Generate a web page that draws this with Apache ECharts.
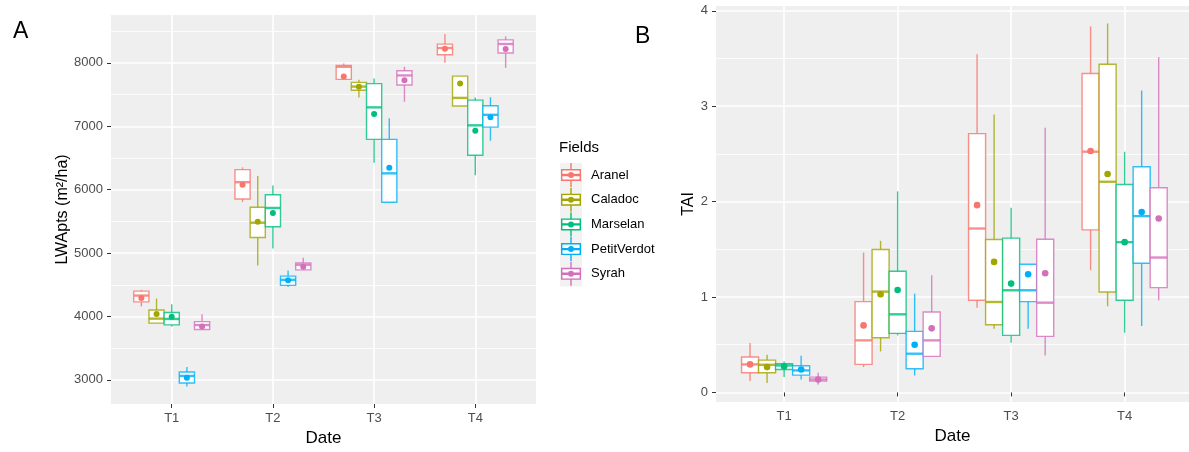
<!DOCTYPE html>
<html><head><meta charset="utf-8">
<script src="https://cdn.jsdelivr.net/npm/echarts@6/dist/echarts.min.js"></script>
<style>html,body{margin:0;padding:0;background:#fff}#c{width:1189px;height:452px}</style>
</head><body><div id="c"></div>
<script>
// ---------- data ----------
const fields = ['Aranel', 'Caladoc', 'Marselan', 'PetitVerdot', 'Syrah'];
const dates = ['T1', 'T2', 'T3', 'T4'];
const yTicksLWA = [3000, 4000, 5000, 6000, 7000, 8000];
const yTicksTAI = [0, 1, 2, 3, 4];

// rows per date: [min, Q1, median, Q3, max, mean]
const lwaAranel      = [[4160, 4230, 4330, 4400, 4420, 4290], [5806, 5853, 6118, 6316, 6352, 6076], [7740, 7740, 7938, 7958, 7990, 7786], [8000, 8129, 8234, 8296, 8454, 8223]];
const lwaCaladoc     = [[3893, 3895, 3966, 4102, 4283, 4039], [4803, 5245, 5479, 5723, 6216, 5494], [7454, 7568, 7626, 7693, 7732, 7623], [7319, 7319, 7448, 7791, 7791, 7674]];
const lwaMarselan    = [[3842, 3868, 3961, 4064, 4195, 3997], [5073, 5416, 5712, 5920, 6066, 5634], [6425, 6793, 7298, 7673, 7755, 7194], [6227, 6544, 7015, 7412, 7454, 6929]];
const lwaPetitVerdot = [[2895, 2952, 3062, 3124, 3202, 3035], [4465, 4491, 4579, 4636, 4725, 4570], [5801, 5801, 6258, 6793, 7127, 6347], [6773, 6986, 7181, 7323, 7459, 7142]];
const lwaSyrah       = [[3794, 3794, 3865, 3919, 4036, 3841], [4735, 4735, 4816, 4844, 4925, 4785], [7386, 7651, 7802, 7875, 7938, 7724], [7922, 8156, 8298, 8363, 8418, 8220]];

const taiAranel      = [[0.119, 0.206, 0.294, 0.371, 0.518, 0.294], [0.266, 0.294, 0.546, 0.952, 1.466, 0.703], [0.889, 0.966, 1.718, 2.712, 3.545, 1.963], [1.281, 1.704, 2.523, 3.342, 3.836, 2.530]];
const taiCaladoc     = [[0.098, 0.206, 0.290, 0.339, 0.395, 0.266], [0.430, 0.574, 1.057, 1.498, 1.589, 1.029], [0.668, 0.710, 0.948, 1.603, 2.912, 1.368], [0.903, 1.053, 2.208, 3.440, 3.867, 2.289]];
const taiMarselan    = [[0.161, 0.241, 0.283, 0.301, 0.325, 0.273], [0.598, 0.619, 0.819, 1.270, 2.107, 1.074], [0.521, 0.598, 1.071, 1.617, 1.935, 1.141], [0.626, 0.966, 1.575, 2.180, 2.523, 1.575]];
const taiPetitVerdot = [[0.136, 0.182, 0.231, 0.280, 0.385, 0.241], [0.178, 0.248, 0.406, 0.640, 1.036, 0.500], [0.668, 0.952, 1.071, 1.344, 1.344, 1.239], [0.696, 1.354, 1.848, 2.366, 3.164, 1.890]];
const taiSyrah       = [[0.084, 0.119, 0.136, 0.161, 0.206, 0.136], [0.378, 0.378, 0.546, 0.843, 1.228, 0.672], [0.388, 0.588, 0.941, 1.606, 2.775, 1.249], [0.966, 1.099, 1.414, 2.145, 3.514, 1.823]];

// ---------- styles ----------
const pointColors = ['#F8766D', '#A3A500', '#00BF7D', '#00B0F6', '#D46FBA'];
const lineColors = ['rgba(248,118,109,0.8)', 'rgba(163,165,0,0.8)', 'rgba(0,191,125,0.8)', 'rgba(0,176,246,0.8)', 'rgba(212,111,186,0.8)'];
const DODGE = 0.15, BOX_W = 0.15, LW = 1.4, MED_LW = 2.4;
const FONT = 'Liberation Sans, Arial, sans-serif';

const lwaRows = [lwaAranel, lwaCaladoc, lwaMarselan, lwaPetitVerdot, lwaSyrah];
const taiRows = [taiAranel, taiCaladoc, taiMarselan, taiPetitVerdot, taiSyrah];

function boxSeries(panel, fi, rows, r) {
  return {
    type: 'custom', name: fields[fi], xAxisIndex: panel, yAxisIndex: panel,
    itemStyle: { color: pointColors[fi] },
    encode: { x: 0, y: [1, 2, 3, 4, 5, 6] },
    data: rows.map((row, di) => [di + 1].concat(row)),
    renderItem: function (params, api) {
      const x = api.value(0) + (fi - 2) * DODGE;
      const c = v => api.coord([x, v]);
      const pMin = c(api.value(1)), pQ1 = c(api.value(2)), pMed = c(api.value(3)),
            pQ3 = c(api.value(4)), pMax = c(api.value(5)), pMean = c(api.value(6));
      const half = api.size([BOX_W, 0])[0] / 2;
      const cx = pMed[0];
      const stroke = lineColors[fi];
      return { type: 'group', children: [
        { type: 'line', shape: { x1: cx, y1: pMax[1], x2: cx, y2: pQ3[1] }, style: { stroke: stroke, lineWidth: LW } },
        { type: 'line', shape: { x1: cx, y1: pQ1[1], x2: cx, y2: pMin[1] }, style: { stroke: stroke, lineWidth: LW } },
        { type: 'rect', shape: { x: cx - half, y: pQ3[1], width: 2 * half, height: pQ1[1] - pQ3[1] }, style: { fill: '#fff', stroke: stroke, lineWidth: LW } },
        { type: 'line', shape: { x1: cx - half, y1: pMed[1], x2: cx + half, y2: pMed[1] }, style: { stroke: stroke, lineWidth: MED_LW } },
        { type: 'circle', shape: { cx: cx, cy: pMean[1], r: r }, style: { fill: pointColors[fi] } }
      ] };
    }
  };
}

function xAxis(gridIndex, max, nameGap) {
  return {
    type: 'value', gridIndex: gridIndex, min: 0.4, max: max,
    axisLine: { show: false },
    axisTick: { show: true, customValues: [1, 2, 3, 4], length: 4, lineStyle: { color: '#333', width: 1 } },
    axisLabel: { customValues: [1, 2, 3, 4], formatter: v => dates[Math.round(v) - 1], color: '#4D4D4D', fontSize: 13, margin: 8, fontFamily: FONT },
    splitLine: { show: true, lineStyle: { color: '#fff', width: 1.6 } },
    name: 'Date', nameLocation: 'middle', nameGap: nameGap,
    nameTextStyle: { fontSize: 17, color: '#000', fontFamily: FONT }
  };
}
function yAxis(gridIndex, min, max, ticks, name, nameGap) {
  return {
    type: 'value', gridIndex: gridIndex, min: min, max: max,
    axisLine: { show: false },
    axisTick: { show: true, customValues: ticks, length: 4, lineStyle: { color: '#333', width: 1 } },
    axisLabel: { customValues: ticks, formatter: v => String(v), color: '#4D4D4D', fontSize: 13, margin: 8, fontFamily: FONT },
    splitLine: { show: true, lineStyle: { color: '#fff', width: 1.6 } },
    minorTick: { show: false, splitNumber: 2 },
    minorSplitLine: { show: true, lineStyle: { color: '#fff', width: 0.8 } },
    name: name, nameLocation: 'middle', nameGap: nameGap,
    nameTextStyle: { fontSize: 16, color: '#000', fontFamily: FONT }
  };
}

// legend layout
const LEG_LEFT = 561, LEG_TOP = 163, LEG_W = 20, LEG_H = 24, LEG_GAP = 0.7;
const keyIcon = 'path://M0 6H20V18H0Z M1.4 7.4V16.6H18.6V7.4Z M1.4 10.8H18.6V13.2H1.4Z M9.3 0H10.7V6H9.3Z M9.3 18H10.7V24H9.3Z M7 12A3 3 0 1 1 13 12A3 3 0 1 1 7 12Z';
const keyGraphics = [{ type: 'rect', z: 1, shape: { x: LEG_LEFT - 1, y: LEG_TOP, width: LEG_W + 2, height: fields.length * (LEG_H + LEG_GAP) }, style: { fill: '#F2F2F2' } }]
  .concat(fields.map((f, i) => ({ type: 'rect', z: 2, shape: { x: LEG_LEFT + 1.4, y: LEG_TOP + i * (LEG_H + LEG_GAP) + 7.4, width: LEG_W - 2.8, height: 9.2 }, style: { fill: '#fff' } })));

const series = [];
fields.forEach((f, fi) => series.push(boxSeries(0, fi, lwaRows[fi], 3)));
fields.forEach((f, fi) => series.push(boxSeries(1, fi, taiRows[fi], 3.3)));

const option = {
  animation: false,
  textStyle: { fontFamily: FONT },
  title: [
    { text: 'A', left: 13, top: 20, padding: 0, textStyle: { fontSize: 23, fontWeight: 'normal', color: '#000', fontFamily: FONT } },
    { text: 'B', left: 635, top: 25, padding: 0, textStyle: { fontSize: 23, fontWeight: 'normal', color: '#000', fontFamily: FONT } },
    { text: 'Fields', left: 559, top: 140, padding: 0, textStyle: { fontSize: 15, fontWeight: 'normal', color: '#000', fontFamily: FONT } }
  ],
  legend: {
    data: fields, orient: 'vertical', left: LEG_LEFT, top: LEG_TOP, padding: 0,
    itemWidth: LEG_W, itemHeight: LEG_H, itemGap: LEG_GAP, icon: keyIcon,
    itemStyle: { borderWidth: 0 },
    selectedMode: false,
    textStyle: { fontSize: 13, color: '#000', fontFamily: FONT, padding: [0, 0, 0, 5] }
  },
  graphic: keyGraphics,
  grid: [
    { left: 111, top: 15, width: 425, height: 393, show: true, backgroundColor: '#EFEFEF', borderWidth: 0 },
    { left: 716, top: 6, width: 473, height: 396, show: true, backgroundColor: '#EFEFEF', borderWidth: 0 }
  ],
  xAxis: [xAxis(0, 4.6, 26), xAxis(1, 4.567, 25)],
  yAxis: [yAxis(0, 2620, 8755, yTicksLWA, 'LWApts (m²/ha)', 37), yAxis(1, -0.1, 4.05, yTicksTAI, 'TAI', 16)],
  series: series
};
const chart = echarts.init(document.getElementById('c'), null, { renderer: 'canvas' });
chart.setOption(option);
</script></body></html>
